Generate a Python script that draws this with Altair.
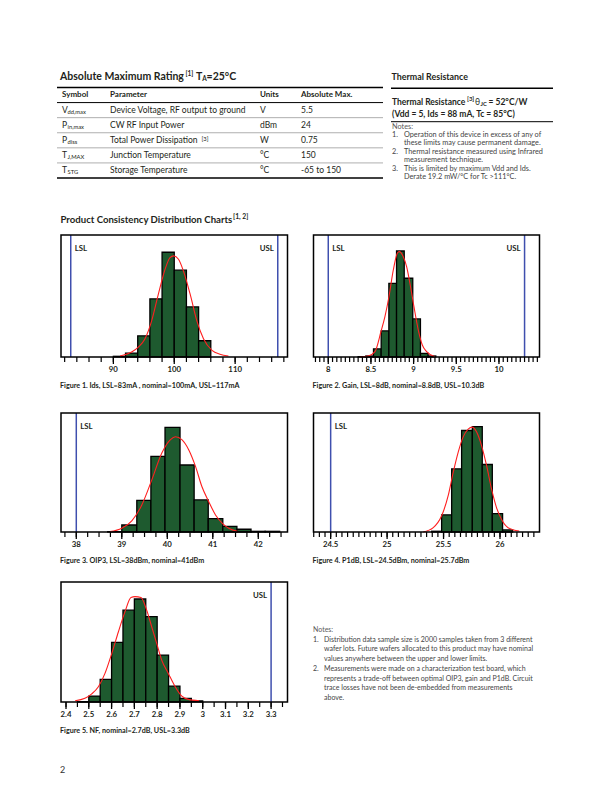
import altair as alt
import pandas as pd
import numpy as np

# ---------------------------------------------------------------- data
# Figure 1 : Ids (mA)
f1_lo = [90, 92, 94, 96, 98, 100, 102, 104]
f1_hi = [92, 94, 96, 98, 100, 102, 104, 106]
f1_n = [4, 23, 124, 340, 613, 508, 293, 95]
f1_cx = [91.1, 93.0, 94.1, 95.2, 96.3, 97.4, 98.5, 99.3, 99.9, 100.7, 101.5, 102.6, 103.7, 104.8, 106.2, 107.5, 108.9]
f1_cy = [6, 29, 58, 107, 213, 369, 514, 582, 592, 572, 504, 369, 213, 107, 39, 16, 6]
f1_major = [90, 100, 110]
f1_labels = ["90", "100", "110"]

# Figure 2 : Gain (dB)
f2_lo = [8.35, 8.44, 8.53, 8.62, 8.71, 8.80, 8.89, 8.99, 9.08, 9.17]
f2_hi = [8.44, 8.53, 8.62, 8.71, 8.80, 8.89, 8.99, 9.08, 9.17, 9.26]
f2_n = [2, 6, 48, 155, 438, 630, 468, 226, 22, 6]
f2_cx = [8.371, 8.469, 8.547, 8.617, 8.664, 8.711, 8.762, 8.809, 8.832, 8.879, 8.918, 8.957, 9.004, 9.055, 9.102, 9.152, 9.25]
f2_cy = [0, 6, 32, 150, 240, 358, 517, 616, 626, 596, 537, 438, 299, 160, 71, 32, 2]
f2_major = [8, 8.5, 9, 9.5, 10]
f2_labels = ["8", "8.5", "9", "9.5", "10"]

# Figure 3 : OIP3 (dBm)
f3_lo = [38.69, 39.0, 39.33, 39.64, 39.95, 40.28, 40.59, 40.90, 41.22, 41.53, 41.84, 42.15]
f3_hi = [39.0, 39.33, 39.64, 39.95, 40.28, 40.59, 40.90, 41.22, 41.53, 41.84, 42.15, 42.47]
f3_n = [2, 41, 185, 444, 614, 393, 188, 79, 33, 16, 4, 4]
f3_cx = [38.74, 39.0, 39.22, 39.44, 39.66, 39.88, 40.07, 40.18, 40.32, 40.47, 40.62, 40.76, 40.91, 41.06, 41.21, 41.35, 41.54]
f3_cy = [2, 22, 65, 159, 306, 463, 542, 559, 542, 483, 385, 267, 179, 100, 51, 22, 4]
f3_major = [38, 39, 40, 41, 42]
f3_labels = ["38", "39", "40", "41", "42"]

# Figure 4 : P1dB (dBm)
f4_lo = [25.394, 25.483, 25.572, 25.660, 25.755, 25.843, 25.932, 26.023]
f4_hi = [25.483, 25.572, 25.660, 25.755, 25.843, 25.932, 26.023, 26.112]
f4_n = [4, 91, 336, 540, 561, 359, 98, 11]
f4_cx = [25.32, 25.409, 25.483, 25.541, 25.586, 25.630, 25.674, 25.718, 25.754, 25.792, 25.836, 25.881, 25.925, 25.969, 26.013, 26.072, 26.170]
f4_cy = [0, 23, 86, 193, 318, 425, 506, 547, 558, 533, 461, 354, 229, 130, 68, 23, 5]
f4_major = [24.5, 25, 25.5, 26]
f4_labels = ["24.5", "25", "25.5", "26"]

# Figure 5 : NF (dB)
f5_lo = [2.45, 2.50, 2.55, 2.60, 2.65, 2.70, 2.75, 2.80, 2.85, 2.90, 2.95]
f5_hi = [2.50, 2.55, 2.60, 2.65, 2.70, 2.75, 2.80, 2.85, 2.90, 2.95, 3.00]
f5_n = [2, 27, 104, 273, 421, 472, 391, 215, 73, 17, 5]
f5_cx = [2.44, 2.483, 2.513, 2.542, 2.571, 2.601, 2.63, 2.659, 2.685, 2.703, 2.729, 2.754, 2.776, 2.798, 2.82, 2.849, 2.879, 2.908, 2.937, 2.984]
f5_cy = [6, 17, 37, 70, 131, 223, 322, 414, 479, 483, 479, 421, 345, 269, 192, 131, 70, 27, 12, 6]
f5_major = [2.4, 2.5, 2.6, 2.7, 2.8, 2.9, 3.0, 3.1, 3.2, 3.3]
f5_labels = ["2.4", "2.5", "2.6", "2.7", "2.8", "2.9", "3", "3.1", "3.2", "3.3"]

# Absolute maximum rating table
tbl_headers = ["Symbol", "Parameter", "Units", "Absolute Max."]
tbl_sym = ["V", "P", "P", "T", "T"]
tbl_sub = ["dd,max", "in,max", "diss", "J,MAX", "STG"]
tbl_param = ["Device Voltage, RF output to ground", "CW RF Input Power", "Total Power Dissipation",
             "Junction Temperature", "Storage Temperature"]
tbl_units = ["V", "dBm", "W", "°C", "°C"]
tbl_max = ["5.5", "24", "0.75", "150", "-65 to 150"]

thermal_notes_num = ["", "1.", "", "2.", "", "3.", ""]
thermal_notes = ["Notes:",
                 "Operation of this device in excess of any of",
                 "these limits may cause permanent damage.",
                 "Thermal resistance measured using Infrared",
                 "measurement technique.",
                 "This is limited by maximum Vdd and Ids.",
                 "Derate 19.2 mW/°C  for Tc >111°C."]

bottom_notes_num = ["", "1.", "", "", "2.", "", "", ""]
bottom_notes = ["Notes:",
                "Distribution data sample size is 2000 samples taken from 3 different",
                "wafer lots. Future wafers allocated to this product may have nominal",
                "values anywhere between the upper and lower limits.",
                "Measurements were made on a characterization test board, which",
                "represents a trade-off between optimal OIP3, gain and P1dB. Circuit",
                "trace losses have not been de-embedded from measurements",
                "above."]

# ---------------------------------------------------------------- style
M = 8
def PX(v):
    return v - M
def PY(v):
    return v - M

GREEN = "#1e5a2f"
RED = "#ff1f1f"
BLUE = "#3f4fae"
INK = "#231f20"
GREY = "#444444"
HF = "Lato, Open Sans, sans-serif"
BF = "Lato, Open Sans, sans-serif"


def txt(s, x, y, size, bold=False, font=BF, color=INK, align="left"):
    return alt.Chart(pd.DataFrame({"s": [s]})).mark_text(
        align=align, baseline="middle", font=font, fontSize=size,
        fontWeight="bold" if bold else "normal", color=color
    ).encode(x=alt.value(PX(x)), y=alt.value(PY(y)), text="s:N")


def panel(lo, hi, n, cx, cy, dom, ymax, xr, yr, step, major, labels,
          lsl, usl, caption):
    xs = alt.Scale(domain=dom, range=[PX(xr[0]), PX(xr[1])], nice=False, zero=False)
    ys = alt.Scale(domain=[0, ymax], range=[PY(yr[1]), PY(yr[0])], nice=False, zero=False)

    def ex(f):
        return alt.X(f"{f}:Q", scale=xs, axis=None)

    def ey(f):
        return alt.Y(f"{f}:Q", scale=ys, axis=None)

    bars = alt.Chart(pd.DataFrame({"lo": lo, "hi": hi, "n": n, "z": 0})).mark_rect(
        fill=GREEN, stroke="black", strokeWidth=1.3
    ).encode(x=ex("lo"), x2="hi", y=ey("n"), y2="z")

    curve = alt.Chart(pd.DataFrame({"x": cx, "y": cy})).mark_line(
        color=RED, strokeWidth=1.1, interpolate="monotone"
    ).encode(x=ex("x"), y=ey("y"))

    minor = np.round(np.arange(np.ceil(dom[0] / step) * step, dom[1], step), 4)
    tmin = alt.Chart(pd.DataFrame({"t": minor, "z": 0})).mark_tick(
        orient="vertical", size=5, thickness=1.2, color="black", opacity=1, yOffset=2.5
    ).encode(x=ex("t"), y=ey("z"))
    tmaj = alt.Chart(pd.DataFrame({"t": major, "z": 0})).mark_tick(
        orient="vertical", size=7, thickness=1.3, color="black", opacity=1, yOffset=3.5
    ).encode(x=ex("t"), y=ey("z"))
    tlab = alt.Chart(pd.DataFrame({"t": major, "s": labels, "z": 0})).mark_text(
        font=HF, fontWeight="bold", fontSize=7.8, dy=13, baseline="middle", color=INK
    ).encode(x=ex("t"), y=ey("z"), text="s:N")

    parts = [bars, curve]
    if lsl is not None:
        d = pd.DataFrame({"v": [lsl], "s": ["LSL"], "a": [0], "b": [ymax]})
        parts.append(alt.Chart(d).mark_rule(color=BLUE, strokeWidth=1.5).encode(x=ex("v"), y=ey("a"), y2="b"))
        parts.append(alt.Chart(d).mark_text(align="left", baseline="middle", dx=4, font=HF,
                                            fontWeight="bold", fontSize=7.8, color=INK)
                     .encode(x=ex("v"), y=alt.value(PY(yr[0] + 14)), text="s:N"))
    if usl is not None:
        d = pd.DataFrame({"v": [usl], "s": ["USL"], "a": [0], "b": [ymax]})
        parts.append(alt.Chart(d).mark_rule(color=BLUE, strokeWidth=1.5).encode(x=ex("v"), y=ey("a"), y2="b"))
        parts.append(alt.Chart(d).mark_text(align="right", baseline="middle", dx=-4, font=HF,
                                            fontWeight="bold", fontSize=7.8, color=INK)
                     .encode(x=ex("v"), y=alt.value(PY(yr[0] + 14)), text="s:N"))
    frame = alt.Chart(pd.DataFrame({"a": [dom[0]], "b": [dom[1]], "c": [0], "d": [ymax]})).mark_rect(
        fill="transparent", stroke="black", strokeWidth=1.5
    ).encode(x=ex("a"), x2="b", y=ey("c"), y2="d")
    parts += [tmin, tmaj, tlab, frame]
    cap = txt(caption, xr[0] - 1, yr[1] + 29, 7.2, bold=True, font=HF)
    parts.append(cap)
    return alt.layer(*parts)


LX = (61, 287.5)
RX = (313.5, 539.5)
R1 = (235, 357)
R2 = (413, 532)
R3 = (582, 702)

p1 = panel(f1_lo, f1_hi, f1_n, f1_cx, f1_cy, [81.4, 118.6], 714, LX, R1, 2, f1_major, f1_labels,
           83, 117, "Figure 1. Ids, LSL=83mA , nominal=100mA, USL=117mA")
p2 = panel(f2_lo, f2_hi, f2_n, f2_cx, f2_cy, [7.827, 10.475], 725, RX, R1, 0.05, f2_major, f2_labels,
           8, 10.3, "Figure 2. Gain, LSL=8dB, nominal=8.8dB, USL=10.3dB")
p3 = panel(f3_lo, f3_hi, f3_n, f3_cx, f3_cy, [37.664, 42.642], 698, LX, R2, 0.25, f3_major, f3_labels,
           38, None, "Figure 3. OIP3, LSL=38dBm, nominal=41dBm")
p4 = panel(f4_lo, f4_hi, f4_n, f4_cx, f4_cy, [24.348, 26.35], 633, RX, R2, 0.05, f4_major, f4_labels,
           24.5, None, "Figure 4. P1dB, LSL=24.5dBm, nominal=25.7dBm")
p5 = panel(f5_lo, f5_hi, f5_n, f5_cx, f5_cy, [2.378, 3.372], 550, LX, R3, 0.05, f5_major, f5_labels,
           None, 3.3, "Figure 5. NF, nominal=2.7dB, USL=3.3dB")

# ---------------------------------------------------------------- table
tys = alt.Scale(domain=[-0.5, 5.5], range=[PY(87.5), PY(178)], nice=False, zero=False)
TY = alt.Y("r:Q", scale=tys, axis=None)
rows = pd.DataFrame({"r": [1, 2, 3, 4, 5], "sym": tbl_sym, "sub": tbl_sub, "param": tbl_param,
                     "units": tbl_units, "max": tbl_max})
hdr = pd.DataFrame({"r": [0, 0, 0, 0], "s": tbl_headers, "c": [0, 1, 2, 3]})
cols_x = [62, 110, 260, 301]

table_layers = [
    alt.Chart(pd.DataFrame({"b": [-0.5, 5.5]})).mark_rule(color="black", strokeWidth=1.3)
    .encode(y=alt.Y("b:Q", scale=tys, axis=None), x=alt.value(PX(57)), x2=alt.value(PX(383))),
    alt.Chart(pd.DataFrame({"b": [0.5]})).mark_rule(color="black", strokeWidth=1.0)
    .encode(y=alt.Y("b:Q", scale=tys, axis=None), x=alt.value(PX(57)), x2=alt.value(PX(383))),
    alt.Chart(pd.DataFrame({"b": [1.5, 2.5, 3.5, 4.5]})).mark_rule(color="#9a9a9a", strokeWidth=0.8)
    .encode(y=alt.Y("b:Q", scale=tys, axis=None), x=alt.value(PX(57)), x2=alt.value(PX(383))),
]
for i, cxp in enumerate(cols_x):
    table_layers.append(
        alt.Chart(hdr[hdr.c == i]).mark_text(align="left", baseline="middle", font=HF, fontWeight="bold",
                                             fontSize=8, color=INK)
        .encode(x=alt.value(PX(cxp)), y=TY, text="s:N"))
for field, cxp, size, dy in [("sym", 62, 8.5, 0), ("sub", 67.5, 5.8, 2), ("param", 110, 8.5, 0),
                             ("units", 260, 8.5, 0), ("max", 301, 8.5, 0)]:
    table_layers.append(
        alt.Chart(rows).mark_text(align="left", baseline="middle", font=BF, fontSize=size, dy=dy, color=INK)
        .encode(x=alt.value(PX(cxp)), y=TY, text=f"{field}:N"))
table = alt.layer(*table_layers)

# ---------------------------------------------------------------- notes
def notes(nums, lines, x_num, x_txt, y0, y1, size):
    ns = alt.Scale(domain=[0, len(lines) - 1], range=[PY(y0), PY(y1)], nice=False, zero=False)
    d = pd.DataFrame({"r": list(range(len(lines))), "n": nums, "s": lines})
    first = d[d.r == 0]
    rest = d[d.r > 0]
    return alt.layer(
        alt.Chart(first).mark_text(align="left", baseline="middle", font=BF, fontSize=size, color="#5a5a5a")
        .encode(x=alt.value(PX(x_num)), y=alt.Y("r:Q", scale=ns, axis=None), text="s:N"),
        alt.Chart(rest).mark_text(align="left", baseline="middle", font=BF, fontSize=size, color=GREY)
        .encode(x=alt.value(PX(x_num)), y=alt.Y("r:Q", scale=ns, axis=None), text="n:N"),
        alt.Chart(rest).mark_text(align="left", baseline="middle", font=BF, fontSize=size, color=GREY)
        .encode(x=alt.value(PX(x_txt)), y=alt.Y("r:Q", scale=ns, axis=None), text="s:N"),
    )

tnotes = notes(thermal_notes_num, thermal_notes, 392, 404, 126.7, 177, 7.3)
bnotes = notes(bottom_notes_num, bottom_notes, 313, 324, 630, 698, 7.0)

# ---------------------------------------------------------------- headings
texts = [
    txt("Absolute Maximum Rating", 60, 76.7, 10.5, True, HF),
    txt("[1]", 185.5, 74, 6.5, True, HF),
    txt("T", 196, 76.7, 10.5, True, HF),
    txt("A", 202.2, 79, 6.5, True, HF),
    txt("=25°C", 206.6, 76.7, 10.5, True, HF),
    txt("Thermal Resistance", 391.5, 76.5, 8.9, True, HF),
    txt("Thermal Resistance", 392, 101.7, 8.5, True, HF),
    txt("[3]", 467, 99, 6, True, HF),
    txt("θ", 475, 101.7, 8.5, False, BF),
    txt("JC", 480.5, 104, 5.8, True, HF),
    txt("= 52°C/W", 488.5, 101.7, 8.5, True, HF),
    txt("(Vdd = 5, Ids = 88 mA, Tc = 85°C)", 392, 114.3, 8.5, True, HF),
    txt("[3]", 201.5, 138.5, 5.8, False, BF),
    txt("Product Consistency Distribution Charts", 60.5, 220, 9.6, True, HF),
    txt("[1, 2]", 233, 216.5, 6.8, True, HF),
    txt("2", 60, 770, 9, False, BF, "#333333"),
]
therm_rules = [
    alt.Chart(pd.DataFrame({"a": [0]})).mark_rule(color="black", strokeWidth=1.4)
    .encode(x=alt.value(PX(391)), x2=alt.value(PX(553)), y=alt.value(PY(88.3))),
    alt.Chart(pd.DataFrame({"a": [0]})).mark_rule(color="black", strokeWidth=1.0)
    .encode(x=alt.value(PX(391)), x2=alt.value(PX(553)), y=alt.value(PY(121.7))),
]

chart = alt.layer(p1, p2, p3, p4, p5, table, tnotes, bnotes, *therm_rules, *texts).resolve_scale(
    x="independent", y="independent"
).properties(
    width=596, height=776, autosize=alt.AutoSizeParams(type="none"), padding=0
).configure_view(strokeWidth=0)

chart.save("out.html", embed_options={"renderer": "svg", "actions": False})
